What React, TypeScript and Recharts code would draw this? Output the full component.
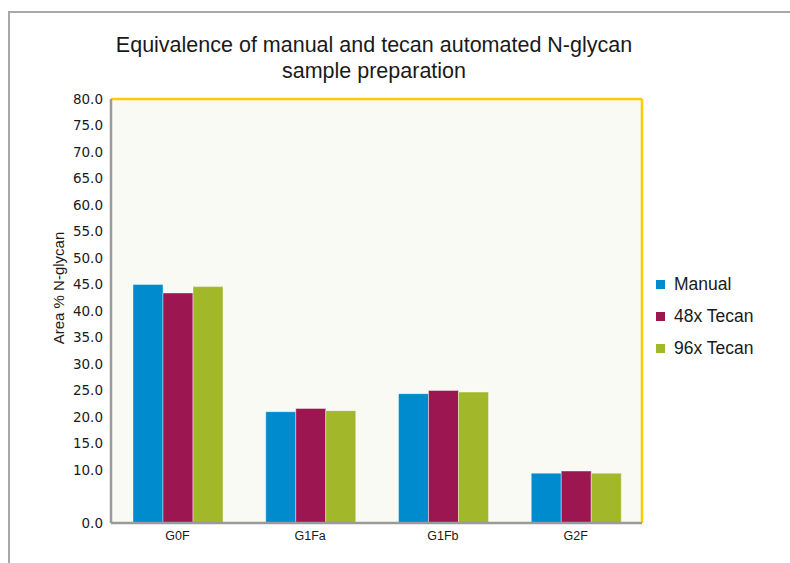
import React from "react";
import {
  BarChart,
  Bar,
  XAxis,
  YAxis,
  CartesianGrid,
  ReferenceLine,
} from "recharts";

const categories = ["G0F", "G1Fa", "G1Fb", "G2F"];
const manual = [45.0, 21.0, 24.4, 9.4];
const tecan48 = [43.4, 21.6, 25.0, 9.8];
const tecan96 = [44.6, 21.2, 24.7, 9.4];
const yTicks = [0, 10, 15, 20, 25, 30, 35, 40, 45, 50, 55, 60, 65, 70, 75, 80];

const series = [
  { key: "manual", name: "Manual", color: "#008BCF" },
  { key: "tecan48", name: "48x Tecan", color: "#9C1752" },
  { key: "tecan96", name: "96x Tecan", color: "#A3B72A" },
];

const data = categories.map((c, i) => ({
  name: c,
  manual: manual[i],
  tecan48: tecan48[i],
  tecan96: tecan96[i],
}));

const font = "'Liberation Sans', Arial, sans-serif";

export default function App() {
  return (
    <div
      style={{
        position: "absolute",
        left: 0,
        top: 0,
        width: 790,
        height: 563,
        background: "#fff",
        overflow: "hidden",
        fontFamily: font,
      }}
    >
      {/* outer frame */}
      <div
        style={{
          position: "absolute",
          left: 8,
          top: 11,
          width: 800,
          height: 600,
          borderTop: "2px solid #A8A8A8",
          borderLeft: "2px solid #A8A8A8",
        }}
      />

      <div
        style={{
          position: "absolute",
          left: 0,
          top: 32,
          width: 748,
          textAlign: "center",
          fontSize: 21.5,
          lineHeight: "26px",
          color: "#1a1a1a",
        }}
      >
        Equivalence of manual and tecan automated N-glycan
        <br />
        sample preparation
      </div>

      <div style={{ position: "absolute", left: 0, top: 0 }}>
        <BarChart
          width={790}
          height={563}
          data={data}
          margin={{ top: 99, right: 148, bottom: 10, left: 51 }}
          barCategoryGap={22}
          barGap={0}
        >
          <CartesianGrid fill="#F8FAF3" stroke="none" horizontal={false} vertical={false} />
          <XAxis
            dataKey="name"
            axisLine={{ stroke: "#9A9A9A", strokeWidth: 2.5 }}
            tickLine={false}
            tick={{ fill: "#1a1a1a", fontSize: 12.5, fontFamily: font }}
            height={30}
            tickMargin={2}
          />
          <YAxis
            domain={[0, 80]}
            ticks={yTicks}
            interval={0}
            width={60}
            axisLine={{ stroke: "#9A9A9A", strokeWidth: 2.5 }}
            tickLine={false}
            tickFormatter={(v: number) => v.toFixed(1)}
            tick={{ fill: "#1a1a1a", fontSize: 13.5, fontFamily: "'DejaVu Sans', Verdana, sans-serif" }}
            label={{
              value: "Area % N-glycan",
              angle: -90,
              position: "insideLeft",
              dx: 3,
              dy: -23,
              fontSize: 15,
              fill: "#1a1a1a",
              fontFamily: font,
              textAnchor: "middle",
            }}
          />
          <ReferenceLine y={80} stroke="#FFCC00" strokeWidth={2.5} />
          <ReferenceLine x="G2F" position="end" stroke="#FFCC00" strokeWidth={2.5} />
          {series.map((s) => (
            <Bar
              key={s.key}
              dataKey={s.key}
              name={s.name}
              fill={s.color}
              stroke="#ffffff"
              strokeOpacity={0.5}
              strokeWidth={0.8}
              isAnimationActive={false}
            />
          ))}
        </BarChart>
      </div>

      {/* legend */}
      <div style={{ position: "absolute", left: 656, top: 268 }}>
        {series.map((s) => (
          <div
            key={s.key}
            style={{ display: "flex", alignItems: "center", height: 32, fontSize: 17.5, color: "#1a1a1a" }}
          >
            <span style={{ width: 9, height: 9, background: s.color, marginRight: 9, display: "inline-block" }} />
            {s.name}
          </div>
        ))}
      </div>
    </div>
  );
}
